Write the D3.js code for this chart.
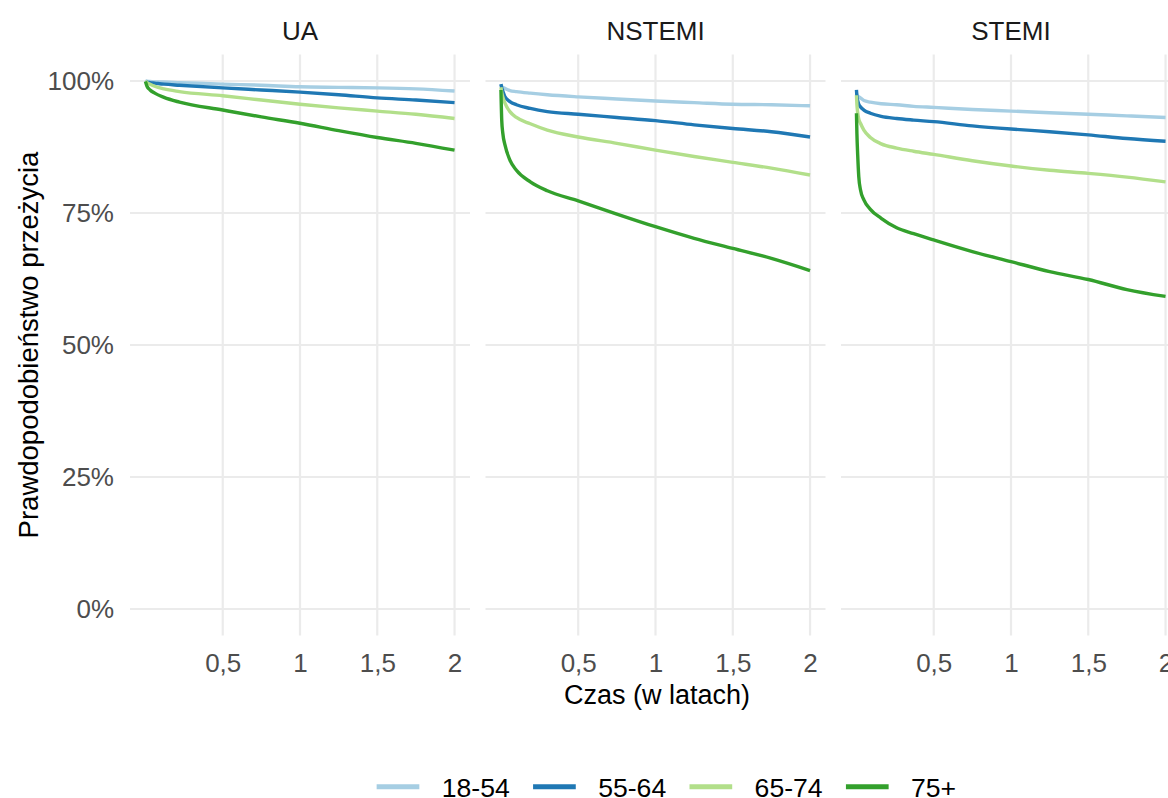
<!DOCTYPE html>
<html>
<head>
<meta charset="utf-8">
<script src="https://cdn.jsdelivr.net/npm/d3@7"></script>
<style>
  html, body { margin: 0; padding: 0; background: #fff; }
  svg { display: block; font-family: "Liberation Sans", Arial, sans-serif; }
</style>
</head>
<body>
<svg id="chart" width="1168" height="798"></svg>
<script>
// Panels (facets), groups and axis ticks
const panels = ["UA", "NSTEMI", "STEMI"];
const groups = ["18-54", "55-64", "65-74", "75+"];
const groupColors = ["#A6CEE3", "#1F78B4", "#B2DF8A", "#33A02C"];
const xTicks = [0.5, 1, 1.5, 2];
const yTicks = [0, 0.25, 0.5, 0.75, 1];

// Kaplan-Meier survival estimates (time in years)
const timesUA = [0, 0.01, 0.03, 0.06, 0.12, 0.22, 0.5, 0.75, 1, 1.25, 1.5, 1.75, 2];
const survUA_18_54 = [1.0, 0.9995, 0.999, 0.998, 0.998, 0.997, 0.994, 0.992, 0.989, 0.988, 0.987, 0.985, 0.981];
const survUA_55_64 = [1.0, 0.998, 0.997, 0.996, 0.994, 0.992, 0.987, 0.983, 0.979, 0.974, 0.968, 0.964, 0.959];
const survUA_65_74 = [1.0, 0.997, 0.994, 0.990, 0.985, 0.980, 0.972, 0.964, 0.956, 0.949, 0.943, 0.937, 0.929];
const survUA_75 = [0.999, 0.990, 0.983, 0.977, 0.969, 0.960, 0.945, 0.932, 0.920, 0.906, 0.893, 0.882, 0.869];

const timesNSTEMI = [0, 0.005, 0.012, 0.026, 0.058, 0.10, 0.19, 0.30, 0.5, 0.75, 1, 1.25, 1.5, 1.75, 2];
const survNSTEMI_18_54 = [0.994, 0.990, 0.988, 0.986, 0.982, 0.980, 0.977, 0.974, 0.970, 0.966, 0.962, 0.959, 0.956, 0.955, 0.953];
const survNSTEMI_55_64 = [0.994, 0.987, 0.981, 0.970, 0.961, 0.955, 0.948, 0.942, 0.937, 0.931, 0.925, 0.917, 0.910, 0.904, 0.894];
const survNSTEMI_65_74 = [0.988, 0.978, 0.970, 0.958, 0.942, 0.931, 0.919, 0.907, 0.894, 0.882, 0.869, 0.857, 0.846, 0.835, 0.822];
const survNSTEMI_75 = [0.983, 0.926, 0.901, 0.879, 0.850, 0.831, 0.809, 0.792, 0.773, 0.748, 0.724, 0.702, 0.683, 0.664, 0.641];

const timesSTEMI = [0, 0.003, 0.008, 0.015, 0.026, 0.048, 0.09, 0.16, 0.26, 0.37, 0.5, 0.75, 1, 1.25, 1.5, 1.75, 2];
const survSTEMI_18_54 = [0.976, 0.973, 0.971, 0.970, 0.968, 0.963, 0.960, 0.957, 0.955, 0.952, 0.950, 0.946, 0.943, 0.940, 0.937, 0.934, 0.931];
const survSTEMI_55_64 = [0.983, 0.972, 0.963, 0.956, 0.951, 0.945, 0.939, 0.933, 0.929, 0.926, 0.923, 0.915, 0.909, 0.904, 0.898, 0.891, 0.886];
const survSTEMI_65_74 = [0.973, 0.955, 0.940, 0.928, 0.920, 0.907, 0.893, 0.881, 0.873, 0.867, 0.861, 0.849, 0.839, 0.831, 0.825, 0.818, 0.809];
const survSTEMI_75 = [0.939, 0.900, 0.860, 0.819, 0.794, 0.775, 0.757, 0.740, 0.722, 0.711, 0.699, 0.677, 0.658, 0.639, 0.624, 0.605, 0.592];

const panelData = [
  { times: timesUA, series: [survUA_18_54, survUA_55_64, survUA_65_74, survUA_75] },
  { times: timesNSTEMI, series: [survNSTEMI_18_54, survNSTEMI_55_64, survNSTEMI_65_74, survNSTEMI_75] },
  { times: timesSTEMI, series: [survSTEMI_18_54, survSTEMI_55_64, survSTEMI_65_74, survSTEMI_75] }
];

// Layout
const plotLeft = 130, panelW = 340, panelGap = 15.5;
const plotTop = 54.6, plotBottom = 635.4;
const gridColor = "#EBEBEB";

const svg = d3.select("#chart");
const plLocale = d3.formatLocale({ decimal: ",", thousands: " ", grouping: [3], currency: ["", " zł"] });
const fmtX = plLocale.format("~g");
const fmtY = d => Math.round(d * 100) + "%";

const y = d3.scaleLinear().domain([-0.05, 1.05]).range([plotBottom, plotTop]);
const color = d3.scaleOrdinal().domain(groups).range(groupColors);

panels.forEach((name, i) => {
  const left = plotLeft + i * (panelW + panelGap);
  const x = d3.scaleLinear().domain([-0.1, 2.1]).range([left, left + panelW]);
  const g = svg.append("g");

  // grid
  g.selectAll("line.hgrid").data(yTicks).join("line")
    .attr("x1", left).attr("x2", left + panelW)
    .attr("y1", d => y(d)).attr("y2", d => y(d))
    .attr("stroke", gridColor).attr("stroke-width", 2.2);
  g.selectAll("line.vgrid").data(xTicks).join("line")
    .attr("x1", d => x(d)).attr("x2", d => x(d))
    .attr("y1", plotTop).attr("y2", plotBottom)
    .attr("stroke", gridColor).attr("stroke-width", 2.2);

  // strip label
  svg.append("text")
    .attr("x", left + panelW / 2).attr("y", 39.5)
    .attr("text-anchor", "middle")
    .attr("font-size", 26).attr("fill", "#1A1A1A")
    .text(name);

  // x axis
  const xa = svg.append("g").attr("transform", `translate(0,${plotBottom})`)
    .call(d3.axisBottom(x).tickValues(xTicks).tickFormat(fmtX).tickSize(0).tickPadding(18));
  xa.select(".domain").remove();
  xa.selectAll("text").attr("font-size", 26).attr("fill", "#4D4D4D").attr("font-family", null);

  // survival curves
  const pd = panelData[i];
  const line = d3.line()
    .x((d, k) => x(pd.times[k]))
    .y(d => y(d))
    .curve(d3.curveMonotoneX);
  pd.series.forEach((vals, s) => {
    g.append("path")
      .attr("d", line(vals))
      .attr("fill", "none")
      .attr("stroke", color(groups[s]))
      .attr("stroke-width", 3.4)
      .attr("stroke-linejoin", "round");
  });
});

// y axis (first panel only)
const ya = svg.append("g").attr("transform", `translate(${plotLeft},0)`)
  .call(d3.axisLeft(y).tickValues(yTicks).tickFormat(fmtY).tickSize(0).tickPadding(16));
ya.select(".domain").remove();
ya.selectAll("text").attr("font-size", 26).attr("fill", "#4D4D4D").attr("font-family", null);

// axis titles
svg.append("text")
  .attr("x", 657).attr("y", 704)
  .attr("text-anchor", "middle").attr("font-size", 27).attr("fill", "#000")
  .text("Czas (w latach)");
svg.append("text")
  .attr("transform", `translate(38,345) rotate(-90)`)
  .attr("text-anchor", "middle").attr("font-size", 27.5).attr("fill", "#000")
  .text("Prawdopodobieństwo przeżycia");

// legend (bottom, horizontal)
const legendY = 786.7, keyW = 42.7, keyGap = 22.4, itemGap = 23.3;
const lg = svg.append("g");
const items = groups.map((grp, i) => {
  const t = lg.append("text").attr("font-size", 26.6).attr("fill", "#000")
    .attr("y", legendY).attr("dy", "0.38em").text(grp);
  return { grp, t, w: t.node().getComputedTextLength() };
});
const totalW = d3.sum(items, d => keyW + keyGap + d.w) + itemGap * (items.length - 1);
let cx = 666.4 - totalW / 2;
items.forEach(it => {
  lg.append("line")
    .attr("x1", cx).attr("x2", cx + keyW)
    .attr("y1", legendY).attr("y2", legendY)
    .attr("stroke", color(it.grp)).attr("stroke-width", 5);
  it.t.attr("x", cx + keyW + keyGap);
  cx += keyW + keyGap + it.w + itemGap;
});
</script>
</body>
</html>
